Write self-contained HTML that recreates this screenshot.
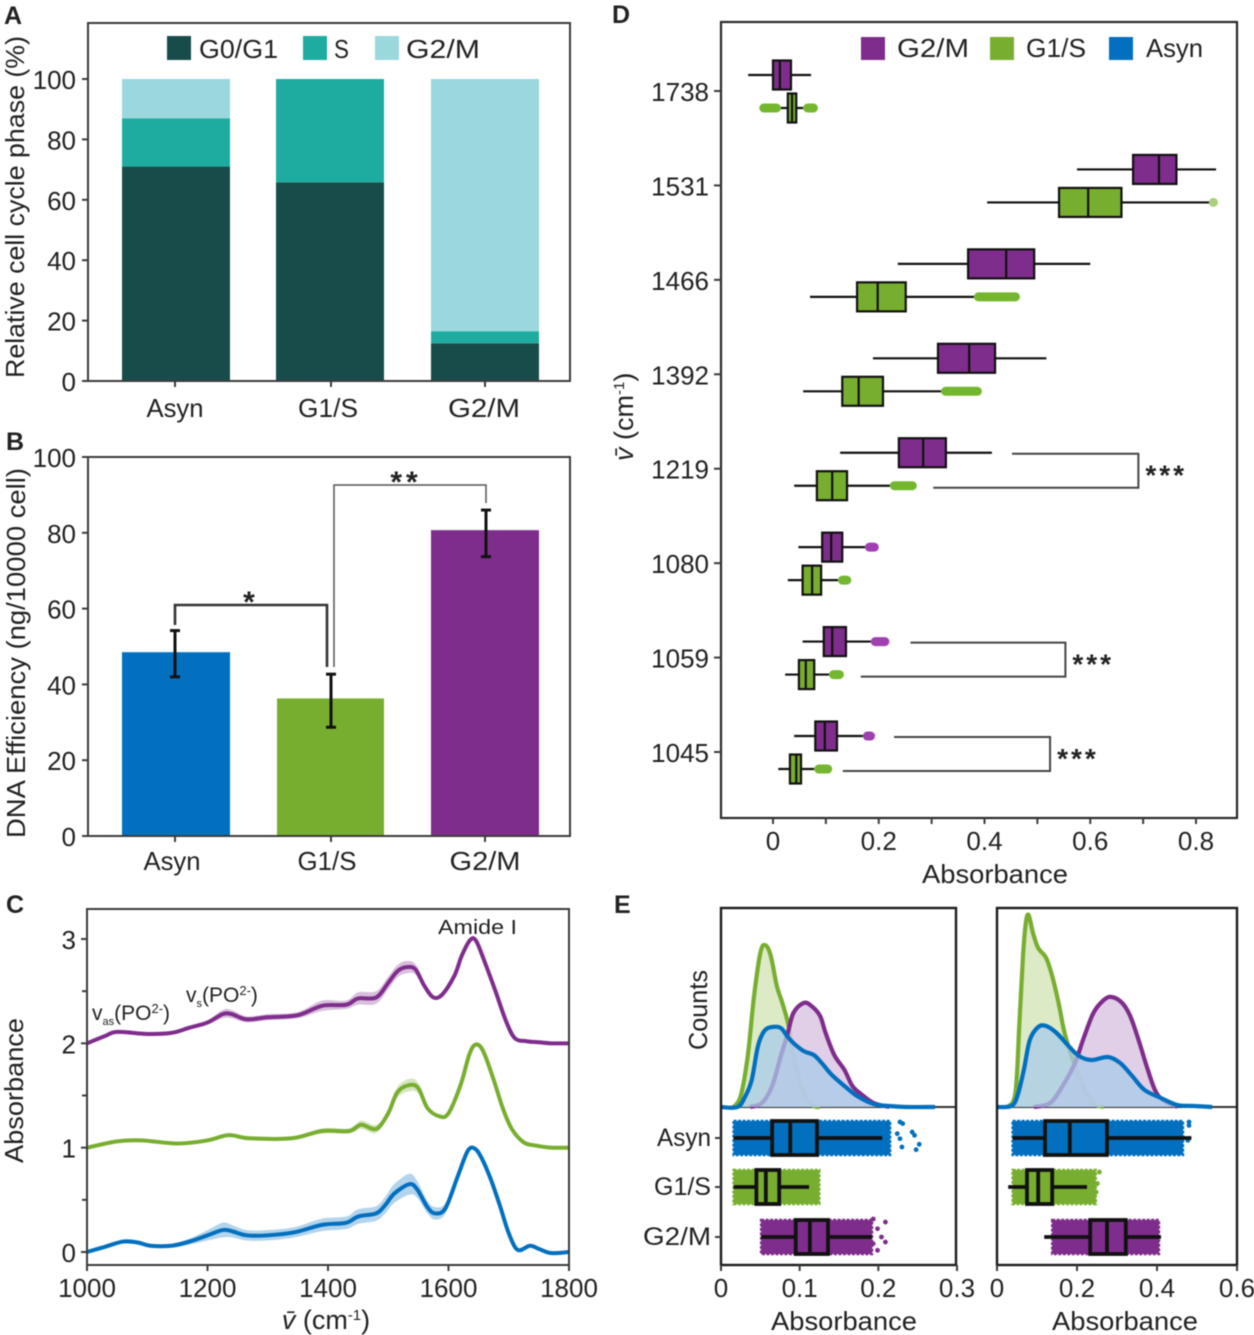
<!DOCTYPE html>
<html lang="en">
<head>
<meta charset="utf-8">
<title>Cell cycle phase, DNA efficiency and absorbance figure</title>
<style>
html,body{margin:0;padding:0;background:#fff;width:1254px;height:1335px;overflow:hidden}
svg{display:block;filter:blur(.5px)}
text{font-family:"Liberation Sans",sans-serif;fill:#222}
</style>
</head>
<body>
<svg id="figure" xmlns="http://www.w3.org/2000/svg" width="1254" height="1335" viewBox="0 0 1254 1335">
  <rect width="1254" height="1335" fill="#fff"/>
  <g id="panelA"></g>
  <g id="panelB"></g>
  <g id="panelC"></g>
  <g id="panelD"></g>
  <g id="panelE"></g>
</svg>
<script>
/* ---------- Panel A data ---------- */
const aCategories = ['Asyn', 'G1/S', 'G2/M'];
const aG0G1 = [71, 65.8, 12.5];
const aS = [16, 34.2, 4];
const aG2M = [13, 0, 83.5];
const aTicks = [0, 20, 40, 60, 80, 100];
const aPhases = ['G0/G1', 'S', 'G2/M'];

/* ---------- Panel B data ---------- */
const bCategories = ['Asyn', 'G1/S', 'G2/M'];
const bMeans = [48.5, 36.3, 80.7];
const bErrLow = [42, 28.7, 73.7];
const bErrHigh = [54.2, 42.7, 86];
const bTicks = [0, 20, 40, 60, 80, 100];

/* ---------- Panel C data ---------- */
const cXTicks = [1000, 1200, 1400, 1600, 1800];
const cYTicks = [0, 1, 2, 3];
const cYMinor = [0.5, 1.5, 2.5];
const purpleWave = [1000,1030,1050,1100,1140,1170,1200,1225,1240,1265,1300,1350,1390,1430,1450,1480,1500,1515,1530,1545,1560,1575,1590,1610,1622,1636,1646,1662,1678,1695,1710,1730,1750,1770,1800];
const purpleAbs = [2.0,2.07,2.11,2.09,2.1,2.15,2.2,2.28,2.28,2.23,2.25,2.27,2.36,2.37,2.43,2.44,2.58,2.69,2.73,2.71,2.55,2.44,2.47,2.65,2.84,2.99,2.98,2.75,2.5,2.22,2.05,2.02,2.01,2.0,2.0];
const purpleBand = [.005,.01,.01,.01,.01,.015,.02,.04,.04,.03,.03,.03,.05,.04,.06,.06,.06,.06,.06,.05,.03,.02,.02,.02,.02,.01,.01,.01,.01,.01,.01,.01,.005,.005,.005];
const greenWave = [1000,1050,1090,1150,1200,1235,1270,1340,1390,1435,1455,1480,1500,1515,1535,1550,1565,1585,1600,1620,1635,1646,1658,1675,1690,1705,1725,1745,1770,1800];
const greenAbs = [1.0,1.06,1.07,1.04,1.07,1.12,1.09,1.09,1.16,1.16,1.22,1.18,1.33,1.53,1.6,1.57,1.38,1.3,1.33,1.6,1.9,1.99,1.92,1.65,1.38,1.18,1.05,1.02,1.0,1.0];
const greenBand = [.005,.005,.01,.01,.01,.015,.01,.01,.025,.025,.04,.04,.03,.05,.06,.05,.02,.02,.015,.01,.01,.01,.01,.01,.01,.01,.005,.005,.005,.005];
const blueWave = [1000,1030,1060,1085,1105,1140,1170,1200,1225,1240,1265,1300,1345,1390,1430,1450,1480,1495,1510,1535,1548,1565,1578,1595,1615,1632,1644,1655,1670,1685,1700,1715,1735,1750,1770,1800];
const blueAbs = [0,.05,.1,.09,.06,.06,.1,.16,.21,.2,.16,.16,.19,.26,.28,.34,.37,.45,.56,.65,.6,.43,.37,.42,.72,.97,.99,.9,.7,.45,.18,.02,.06,.03,-.01,0];
const blueBand = [.005,.01,.02,.02,.015,.02,.03,.05,.07,.06,.05,.05,.05,.06,.06,.07,.07,.08,.09,.1,.08,.06,.06,.05,.03,.02,.01,.01,.01,.01,.01,.01,.01,.01,.005,.005];

/* ---------- Panel D data: [whisker low, q1, median, q3, whisker high] ---------- */
const dWavenumbers = ['1738', '1531', '1466', '1392', '1219', '1080', '1059', '1045'];
const dXTicks = [0, 0.2, 0.4, 0.6, 0.8];
const dXMinor = [0.1, 0.3, 0.5, 0.7];
const dG2MStats = [
  [-.047, 0, .013, .034, .072],
  [.575, .681, .730, .763, .838],
  [.236, .369, .441, .494, .600],
  [.189, .312, .371, .420, .517],
  [.127, .238, .284, .327, .414],
  [.048, .093, .110, .131, .174],
  [.056, .096, .112, .138, .185],
  [.040, .080, .098, .121, .170]
];
const dG1SStats = [
  [.015, .028, .036, .044, .057],
  [.405, .541, .596, .659, .833],
  [.070, .159, .198, .251, .380],
  [.057, .131, .162, .208, .318],
  [.040, .083, .112, .140, .221],
  [.028, .056, .074, .091, .123],
  [.023, .049, .062, .078, .106],
  [.010, .032, .044, .053, .078]
];
const dG2MFliers = [[], [], [], [], [], [[.174, .2]], [[.185, .22]], [[.17, .193]]];
const dG1SFliers = [[[-.026, .015], [.057, .085]], [], [[.38, .467]], [[.318, .395]], [[.221, .272]], [[.123, .148]], [[.106, .134]], [[.078, .112]]];
const dPaleFlierValue = 0.833;
const dBracketRows = [4, 6, 7];
const dBracketTopStart = [.452, .260, .229];
const dBracketApex = [.691, .553, .524];
const dBracketBottomStart = [.303, .166, .132];
const dLegend = ['G2/M', 'G1/S', 'Asyn'];

/* ---------- Panel E data ---------- */
const eRows = ['Asyn', 'G1/S', 'G2/M'];
const eLeftTicks = [0, 0.1, 0.2, 0.3];
const eRightTicks = [0, 0.2, 0.4, 0.6];
const eLeftGreenX = [.016,.025,.034,.042,.05,.056,.063,.071,.078,.086,.094,.102,.11,.118,.126];
const eLeftGreenY = [0,11,51,111,154,162,152,121,104,81,44,21,7,1,0];
const eLeftPurpleX = [.037,.052,.065,.076,.084,.092,.105,.115,.126,.133,.144,.157,.167,.178,.194,.214];
const eLeftPurpleY = [0,4,21,51,71,94,104,101,91,74,52,37,21,13,4,0];
const eLeftBlueX = [0,.021,.031,.039,.047,.055,.065,.076,.084,.092,.105,.118,.128,.141,.157,.173,.194,.214,.235,.272];
const eLeftBlueY = [0,0,11,27,61,76,80,79,71,64,56,52,44,32,21,11,3,1,0,0];
const eRightGreenX = [.026,.046,.056,.065,.072,.079,.09,.103,.123,.138,.154,.169,.19,.215,.241,.267];
const eRightGreenY = [0,14,84,151,184,192,174,159,149,131,104,74,47,21,4,0];
const eRightPurpleX = [.092,.133,.164,.195,.215,.241,.267,.287,.313,.333,.354,.374,.395,.415,.451];
const eRightPurpleY = [0,4,21,44,67,94,107,110,104,91,67,41,17,7,0];
const eRightBlueX = [0,.036,.051,.067,.082,.103,.123,.149,.179,.205,.236,.277,.308,.338,.369,.41,.451,.492,.538];
const eRightBlueY = [0,1,11,37,67,80,81,74,61,51,47,50,44,31,17,9,2,1,0];
/* box stats per row: [whisker low, q1, median, q3, whisker high] */
const eLeftStats = [[.016,.065,.088,.122,.205],[.016,.045,.057,.074,.112],[.051,.095,.113,.136,.192]];
const eRightStats = [[.039,.12,.182,.275,.486],[.028,.075,.103,.138,.225],[.118,.233,.275,.322,.41]];
/* extent of the dense jittered point cloud per row: [low, high] */
const eLeftCloud = [[.016,.215],[.016,.125],[.051,.192]];
const eRightCloud = [[.039,.465],[.039,.247],[.138,.405]];
/* individual stray points: [absorbance, jitter within row from -1 to 1] */
const eLeftStray = [
  [[.2275,-.89],[.231,-.8],[.224,-.24],[.2275,.04],[.243,-.33],[.246,-.15],[.23,.5],[.252,.35],[.248,.65]],
  [],
  [[.1935,-1],[.209,-.83],[.199,-.46],[.204,0],[.209,.28],[.1935,.37],[.199,.74]]
];
const eRightStray = [
  [[.48,-.89],[.48,-.7],[.477,.13]],
  [[.256,-.83],[.251,-.19],[.248,.28]],
  []
];

/* ---------- shared helpers ---------- */
const NS = 'http://www.w3.org/2000/svg';
const BLUE = '#0270bf', GREEN = '#78ae30', PURPLE = '#7f2d8c';
const DARK = '#174c4a', TEAL = '#1eaca1', LIGHT = '#9bd8de';
const INK = '#2a2a2a', FRAME = '#3c3c3c';

function el(tag, attrs, parent) {
  const n = document.createElementNS(NS, tag);
  for (const k in attrs) n.setAttribute(k, attrs[k]);
  parent.appendChild(n);
  return n;
}
function linear(d0, d1, r0, r1) {
  return v => r0 + (v - d0) * (r1 - r0) / (d1 - d0);
}
function text(parent, name, str, x, y, size, anchor, width, rotate, weight) {
  const t = el('text', {x: x, y: y, 'font-size': size, 'text-anchor': anchor || 'middle'}, parent);
  t.textContent = str;
  if (width) { t.setAttribute('textLength', width); t.setAttribute('lengthAdjust', 'spacingAndGlyphs'); }
  if (rotate) t.setAttribute('transform', 'rotate(-90 ' + x + ' ' + y + ')');
  if (weight) t.setAttribute('font-weight', weight);
  
  
  return t;
}
function frame(parent, name, x0, y0, x1, y1, color, w) {
  const r = el('rect', {x: x0, y: y0, width: x1 - x0, height: y1 - y0, fill: 'none', stroke: color || FRAME, 'stroke-width': w || 2}, parent);
  
  
}
function segment(parent, name, x1, y1, x2, y2, color, w) {
  const l = el('line', {x1: x1, y1: y1, x2: x2, y2: y2, stroke: color || FRAME, 'stroke-width': w || 2}, parent);
  
  
  return l;
}
function yAxis(parent, prefix, ticks, labels, scale, xFrame, labelRight, size) {
  ticks.forEach((v, i) => {
    segment(parent, prefix + '-tick-' + labels[i], xFrame - 6, scale(v), xFrame, scale(v));
    text(parent, prefix + '-label-' + labels[i], labels[i], labelRight, scale(v) + 10, size || 26, 'end');
  });
}
function xAxis(parent, prefix, ticks, labels, scale, yFrame, labelY, size) {
  ticks.forEach((v, i) => {
    segment(parent, prefix + '-tick-' + labels[i], scale(v), yFrame, scale(v), yFrame + 6);
    text(parent, prefix + '-label-' + labels[i], labels[i], scale(v), labelY, size || 26, 'middle');
  });
}
function smooth(pts) {
  let d = 'M' + pts[0][0].toFixed(2) + ' ' + pts[0][1].toFixed(2);
  for (let i = 0; i < pts.length - 1; i++) {
    const p0 = pts[i - 1] || pts[i], p1 = pts[i], p2 = pts[i + 1], p3 = pts[i + 2] || p2;
    const c1x = p1[0] + (p2[0] - p0[0]) / 6, c1y = p1[1] + (p2[1] - p0[1]) / 6;
    const c2x = p2[0] - (p3[0] - p1[0]) / 6, c2y = p2[1] - (p3[1] - p1[1]) / 6;
    d += 'C' + c1x.toFixed(2) + ' ' + c1y.toFixed(2) + ' ' + c2x.toFixed(2) + ' ' + c2y.toFixed(2) + ' ' + p2[0].toFixed(2) + ' ' + p2[1].toFixed(2);
  }
  return d;
}
function boxPlot(parent, prefix, xs, cy, half, stats, color, w) {
  segment(parent, prefix + '-whisker', xs(stats[0]), cy, xs(stats[4]), cy, '#111', w);
  const b = el('rect', {x: xs(stats[1]), y: cy - half, width: xs(stats[3]) - xs(stats[1]), height: 2 * half, fill: color, stroke: '#111', 'stroke-width': w}, parent);
  
  
  segment(parent, prefix + '-median', xs(stats[2]), cy - half, xs(stats[2]), cy + half, '#111', w);
}

/* ---------- Panel A ---------- */
(function () {
  const g = document.getElementById('panelA');
  const yA = linear(0, 100, 381, 79);
  const barLeft = [122, 276, 431];
  const barW = 108;
  const phaseColors = [DARK, TEAL, LIGHT];
  const series = [aG0G1, aS, aG2M];
  aCategories.forEach((cat, i) => {
    let base = 0;
    series.forEach((vals, s) => {
      const top = base + vals[i];
      const bar = el('rect', {x: barLeft[i], y: yA(top), width: barW, height: yA(base) - yA(top), fill: phaseColors[s]}, g);
      
      
      base = top;
    });
  });
  frame(g, 'panel-a-frame', 88, 23, 570, 381);
  yAxis(g, 'panel-a-y', aTicks, aTicks.map(String), yA, 88, 76);
  const centers = [175, 331, 485];
  const labelX = [175, 328, 484], labelW = [57, 60, 72];
  aCategories.forEach((cat, i) => {
    segment(g, 'panel-a-x-tick-' + cat, centers[i], 381, centers[i], 387);
    text(g, 'panel-a-x-label-' + cat, cat, labelX[i], 417, 26, 'middle', labelW[i]);
  });
  text(g, 'panel-a-y-title', 'Relative cell cycle phase (%)', 24, 378, 26, 'start', 342, true);
  text(g, 'panel-a-letter', 'A', 4, 24, 25, 'start', 0, false, 'bold');
  const swX = [167, 303, 375], txtX = [199, 334, 406], txtW = [79, 15, 74];
  aPhases.forEach((p, i) => {
    const sw = el('rect', {x: swX[i], y: 36, width: 24, height: 24, fill: phaseColors[i]}, g);
    
    
    text(g, 'legend-label-' + p, p, txtX[i], 58, 26, 'start', txtW[i]);
  });
})();

/* ---------- Panel B ---------- */
(function () {
  const g = document.getElementById('panelB');
  const yB = linear(0, 100, 836, 457);
  const barLeft = [122, 277, 431];
  const barW = [108, 107, 108];
  const cols = [BLUE, GREEN, PURPLE];
  const errX = [175, 331, 486];
  bCategories.forEach((cat, i) => {
    const bar = el('rect', {x: barLeft[i], y: yB(bMeans[i]), width: barW[i], height: yB(0) - yB(bMeans[i]), fill: cols[i]}, g);
    
    
    segment(g, 'error-bar-' + cat, errX[i], yB(bErrLow[i]), errX[i], yB(bErrHigh[i]), '#111', 3);
    segment(g, 'error-cap-low-' + cat, errX[i] - 5, yB(bErrLow[i]), errX[i] + 5, yB(bErrLow[i]), '#111', 3);
    segment(g, 'error-cap-high-' + cat, errX[i] - 5, yB(bErrHigh[i]), errX[i] + 5, yB(bErrHigh[i]), '#111', 3);
  });
  frame(g, 'panel-b-frame', 88, 457, 570, 836);
  yAxis(g, 'panel-b-y', bTicks, bTicks.map(String), yB, 88, 76);
  const centers = [175, 331, 485];
  const labelX = [172, 327, 485], labelW = [57, 59, 71];
  bCategories.forEach((cat, i) => {
    segment(g, 'panel-b-x-tick-' + cat, centers[i], 836, centers[i], 842);
    text(g, 'panel-b-x-label-' + cat, cat, labelX[i], 870, 26, 'middle', labelW[i]);
  });
  text(g, 'panel-b-y-title', 'DNA Efficiency (ng/10000 cell)', 25, 838, 26, 'start', 370, true);
  text(g, 'panel-b-letter', 'B', 6, 450, 25, 'start', 0, false, 'bold');
  const p1 = el('path', {d: 'M175 625V605H327V667', fill: 'none', stroke: '#333', 'stroke-width': 2.6}, g);
  
  
  const p2 = el('path', {d: 'M334 667V485H486V503', fill: 'none', stroke: '#555', 'stroke-width': 1.5}, g);
  
  
  text(g, 'significance-star-asyn-g1s', '*', 249, 612, 30, 'middle', 0, false, 'bold');
  const s2 = text(g, 'significance-stars-g1s-g2m', '**', 406, 492, 30, 'middle', 0, false, 'bold');
  s2.setAttribute('letter-spacing', '4');
})();

/* ---------- Panel C ---------- */
(function () {
  const g = document.getElementById('panelC');
  const xC = linear(1000, 1800, 87, 569);
  const yC = linear(0, 3, 1252, 939);
  function spectrum(name, wave, abs, band, color) {
    const upper = wave.map((w, i) => [xC(w), yC(abs[i] + band[i])]);
    const lower = wave.map((w, i) => [xC(w), yC(abs[i] - band[i])]).reverse();
    const area = el('path', {d: smooth(upper) + 'L' + smooth(lower).slice(1) + 'Z', fill: color, 'fill-opacity': .3, stroke: 'none'}, g);
    
    
    const line = el('path', {d: smooth(wave.map((w, i) => [xC(w), yC(abs[i])])), fill: 'none', stroke: color, 'stroke-width': 4}, g);
    
    
  }
  spectrum('g2m', purpleWave, purpleAbs, purpleBand, PURPLE);
  spectrum('g1s', greenWave, greenAbs, greenBand, GREEN);
  spectrum('asyn', blueWave, blueAbs, blueBand, BLUE);
  frame(g, 'panel-c-frame', 87, 909, 569, 1265);
  yAxis(g, 'panel-c-y', cYTicks, cYTicks.map(String), yC, 87, 76);
  cYMinor.forEach(v => {
    segment(g, 'panel-c-y-minor-tick', 82, yC(v), 87, yC(v));
  });
  xAxis(g, 'panel-c-x', cXTicks, cXTicks.map(String), xC, 1265, 1297);
  text(g, 'panel-c-y-title', 'Absorbance', 23, 1163, 26, 'start', 145, true);
  text(g, 'panel-c-letter', 'C', 6, 913, 25, 'start', 0, false, 'bold');
  text(g, 'amide-i-annotation', 'Amide I', 438, 934, 20, 'start', 79);

  const xt = text(g, 'panel-c-x-title', '', 326, 1329, 27, 'middle');
  const xv = el('tspan', {'font-style': 'italic'}, xt); xv.textContent = 'v\u0304';
  
  
  const xu = el('tspan', {}, xt); xu.textContent = ' (cm';
  
  
  const xs = el('tspan', {dy: -9, 'font-size': 15}, xt); xs.textContent = '-1';
  
  
  const xc = el('tspan', {dy: 9}, xt); xc.textContent = ')';
  
  

  function peakLabel(name, x, y, sub) {
    const t = text(g, name, 'v', x, y, 21, 'start');
    const a = el('tspan', {dy: 5, 'font-size': 11}, t); a.textContent = sub;
    
    
    const b = el('tspan', {dy: -5}, t); b.textContent = '(PO';
    
    
    const c = el('tspan', {dy: -7, 'font-size': 13}, t); c.textContent = '2-';
    
    
    const d = el('tspan', {dy: 7}, t); d.textContent = ')';
    
    
  }
  peakLabel('vas-po2-annotation', 92, 1020, 'as');
  peakLabel('vs-po2-annotation', 186, 1002, 's');
})();

/* ---------- Panel D ---------- */
(function () {
  const g = document.getElementById('panelD');
  const xD = linear(0, 0.8, 773, 1196);
  const yD = i => 91 + i * 94.43;
  const flierRadius = 4.5;
  function flierLine(name, f, y, color) {
    const a = xD(f[0]) + flierRadius, b = Math.max(a, xD(f[1]) - flierRadius);
    const l = segment(g, name, a, y, b, y, color, flierRadius * 2);
    l.setAttribute('stroke-linecap', 'round');
  }
  frame(g, 'panel-d-frame', 721, 22, 1237, 818, '#2a2a2a', 2.2);
  dWavenumbers.forEach((wn, i) => {
    const y = yD(i);
    segment(g, 'panel-d-y-tick-' + wn, 714, y, 721, y);
    text(g, 'panel-d-y-label-' + wn, wn, 709, y + 10, 26, 'end');
    const py = y - 16, gy = y + 17;
    boxPlot(g, 'box-g2m-' + wn, xD, py, 14.5, dG2MStats[i], PURPLE, 2.2);
    dG2MFliers[i].forEach(f => {
      flierLine('fliers-g2m-' + wn, f, py, '#a03fb0');
    });
    boxPlot(g, 'box-g1s-' + wn, xD, gy, 14.5, dG1SStats[i], GREEN, 2.2);
    dG1SFliers[i].forEach(f => {
      flierLine('fliers-g1s-' + wn, f, gy, '#74b72e');
    });
    if (wn === '1531') {
      const c = el('circle', {cx: xD(dPaleFlierValue), cy: gy, r: 4.5, fill: '#a9d07d'}, g);
      
      
    }
  });
  xAxis(g, 'panel-d-x', dXTicks, dXTicks.map(String), xD, 818, 850);
  dXMinor.forEach(v => {
    segment(g, 'panel-d-x-minor-tick', xD(v), 818, xD(v), 824);
  });
  text(g, 'panel-d-x-title', 'Absorbance', 995, 883, 26, 'middle', 146);
  const yt = text(g, 'panel-d-y-title', '', 633, 461, 27, 'start', 0, true);
  const v = el('tspan', {'font-style': 'italic'}, yt); v.textContent = 'v\u0304';
  
  
  const u = el('tspan', {}, yt); u.textContent = ' (cm';
  
  
  const s = el('tspan', {dy: -9, 'font-size': 15}, yt); s.textContent = '-1';
  
  
  const c = el('tspan', {dy: 9}, yt); c.textContent = ')';
  
  
  text(g, 'panel-d-letter', 'D', 612, 23, 25, 'start', 0, false, 'bold');

  dBracketRows.forEach((row, i) => {
    const top = yD(row) - 15, bottom = yD(row) + 19;
    const ax = xD(dBracketApex[i]);
    const p = el('path', {d: 'M' + xD(dBracketTopStart[i]) + ' ' + top + 'H' + ax + 'V' + bottom + 'H' + xD(dBracketBottomStart[i]), fill: 'none', stroke: '#444', 'stroke-width': 2}, g);
    
    
    const st = text(g, 'significance-stars-' + dWavenumbers[row], '***', ax + 7, (top + bottom) / 2 + 14, 28, 'start', 0, false, 'bold');
    st.setAttribute('letter-spacing', '3');
  });

  const legendCols = [PURPLE, GREEN, BLUE];
  const swX = [861, 990, 1109], tx = [897, 1026, 1146], tw = [72, 60, 57];
  dLegend.forEach((name, i) => {
    const sw = el('rect', {x: swX[i], y: 37, width: 24, height: 23, fill: legendCols[i]}, g);
    
    
    text(g, 'legend-label-' + name, name, tx[i], 57, 26, 'start', tw[i]);
  });
})();

/* ---------- Panel E ---------- */
(function () {
  const g = document.getElementById('panelE');
  const rowY = [1138, 1187, 1237];
  const rowCols = [BLUE, GREEN, PURPLE];
  const baseline = 1107;
  function side(prefix, x0, x1, scale, ticks, gx, gy, px, py, bx, by, stats, cloud, stray) {
    function kde(name, xsv, ysv, color, pale, alpha) {
      const pts = xsv.map((v, i) => [scale(v), baseline - ysv[i]]);
      const area = el('path', {d: smooth(pts) + 'Z', fill: pale, 'fill-opacity': alpha, stroke: 'none'}, g);
      
      
      const line = el('path', {d: smooth(pts), fill: 'none', stroke: color, 'stroke-width': 4.2, 'stroke-linejoin': 'round'}, g);
      
      
    }
    eRows.forEach((row, i) => {
      const y = rowY[i];
      const band = el('rect', {x: scale(cloud[i][0]), y: y - 17, width: scale(cloud[i][1]) - scale(cloud[i][0]), height: 34, fill: rowCols[i], stroke: rowCols[i], 'stroke-width': 2.4, 'stroke-dasharray': '3 1.5'}, g);
      
      
      stray[i].forEach(s => {
        const c = el('circle', {cx: scale(s[0]), cy: y + s[1] * 18, r: 2.4, fill: rowCols[i]}, g);
        
        
      });
    });
    segment(g, prefix + '-divider', x0, baseline, x1, baseline, '#333', 2);
    kde('g1s', gx, gy, GREEN, '#d8e8bf', .9);
    kde('g2m', px, py, PURPLE, '#dcc6e3', .85);
    kde('asyn', bx, by, BLUE, '#a8cbe8', .75);
    eRows.forEach((row, i) => {
      boxPlot(g, prefix + '-box-' + row, scale, rowY[i], 17, stats[i], rowCols[i], 3.8);
    });
    frame(g, prefix + '-frame', x0, 908, x1, 1265, '#1c1c1c', 2.4);
    xAxis(g, prefix + '-x', ticks, ticks.map(String), scale, 1265, 1297);
  }
  const xLeft = linear(0, 0.3, 721, 957);
  const xRight = linear(0, 0.6, 997, 1237);
  side('panel-e-left', 721, 956, xLeft, eLeftTicks, eLeftGreenX, eLeftGreenY, eLeftPurpleX, eLeftPurpleY, eLeftBlueX, eLeftBlueY, eLeftStats, eLeftCloud, eLeftStray);
  side('panel-e-right', 997, 1237, xRight, eRightTicks, eRightGreenX, eRightGreenY, eRightPurpleX, eRightPurpleY, eRightBlueX, eRightBlueY, eRightStats, eRightCloud, eRightStray);
  const labelW = [54, 57, 68];
  eRows.forEach((row, i) => {
    segment(g, 'panel-e-y-tick-' + row, 715, rowY[i], 721, rowY[i]);
    text(g, 'panel-e-y-label-' + row, row, 711, rowY[i] + 8, 25, 'end', labelW[i]);
  });
  text(g, 'panel-e-counts-title', 'Counts', 707, 1050, 26, 'start', 80, true);
  text(g, 'panel-e-left-x-title', 'Absorbance', 844, 1330, 26, 'middle', 146);
  text(g, 'panel-e-right-x-title', 'Absorbance', 1125, 1330, 26, 'middle', 146);
  text(g, 'panel-e-letter', 'E', 614, 913, 25, 'start', 0, false, 'bold');
})();
</script>
</body>
</html>
